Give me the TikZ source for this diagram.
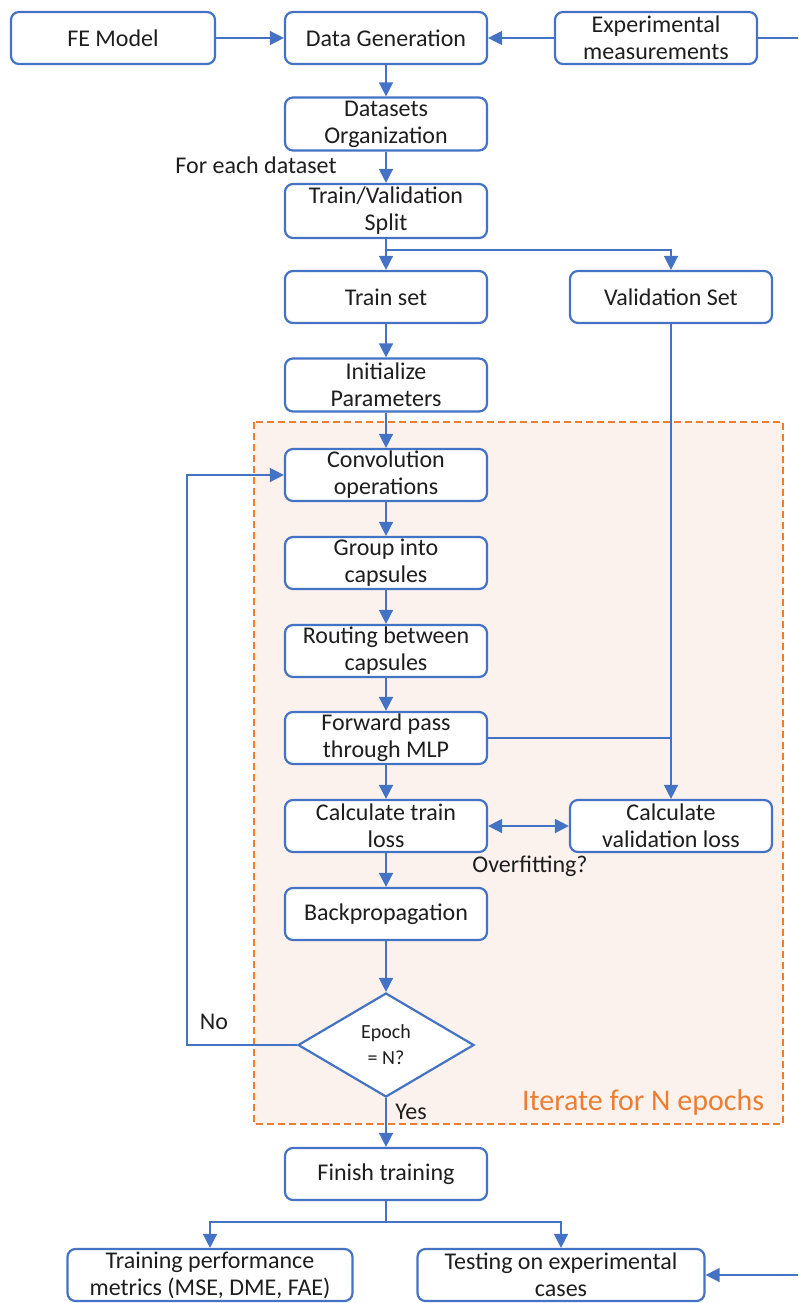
\documentclass[tikz,border=0pt]{standalone}
\usepackage{fontspec}
\setmainfont{Carlito}
\usetikzlibrary{arrows.meta,shapes.geometric}
\definecolor{lineblue}{HTML}{4472C4}
\definecolor{iterorange}{HTML}{ED7D31}
\definecolor{iterfill}{HTML}{FBF2EE}
\definecolor{txt}{HTML}{1E1E1E}
\tikzset{
  procbox/.style={draw=lineblue, line width=2.2pt, rounded corners=8pt, fill=white,
    minimum width=202pt, minimum height=52pt, inner sep=0pt, align=center,
    text=txt, font=\fontsize{24}{27}\selectfont},
  decbox/.style={draw=lineblue, line width=2.2pt, diamond, aspect=1.7, fill=white,
    minimum width=176pt, minimum height=104pt, inner sep=0pt, align=center,
    text=txt, font=\fontsize{20}{26}\selectfont},
  conn/.style={draw=lineblue, line width=1.5pt},
  arr/.style={conn, -{Triangle[length=14pt,width=14pt]}},
  dblarr/.style={conn, {Triangle[length=14pt,width=14pt]}-{Triangle[length=14pt,width=14pt]}},
  lbl/.style={text=txt, font=\fontsize{24}{27}\selectfont, inner sep=0pt},
  iterbox/.style={draw=iterorange, line width=1.3pt, dash pattern=on 7pt off 4pt, fill=iterfill}
}
\begin{document}
\begin{tikzpicture}[x=1pt,y=-1pt]
\useasboundingbox (0,0) rectangle (798,1303);
% iteration region
\path[iterbox] (254,422) rectangle (783,1124);
\node[text=iterorange, font=\fontsize{30}{34}\selectfont, inner sep=0pt] (iterlbl) at (643,1102) {Iterate for N epochs};

% nodes
\node[procbox, minimum width=204pt] (fe) at (113,38) {FE Model};
\node[procbox] (gen) at (386,38) {Data Generation};
\node[procbox] (exp) at (656,38) {Experimental\\measurements};
\node[procbox, minimum height=53pt] (org) at (386,124) {Datasets\\Organization};
\node[procbox, minimum height=54pt] (split) at (386,211) {Train/Validation\\Split};
\node[procbox] (train) at (386,297) {Train set};
\node[procbox] (val) at (671,297) {Validation Set};
\node[procbox, minimum height=53pt] (init) at (386,385) {Initialize\\Parameters};
\node[procbox] (conv) at (386,475) {Convolution\\operations};
\node[procbox] (group) at (386,563) {Group into\\capsules};
\node[procbox] (route) at (386,651) {Routing between\\capsules};
\node[procbox] (fwd) at (386,738) {Forward pass\\through MLP};
\node[procbox] (tloss) at (386,826) {Calculate train\\loss};
\node[procbox] (vloss) at (671,826) {Calculate\\validation loss};
\node[procbox] (back) at (386,914) {Backpropagation};
\node[decbox] (dec) at (386,1045) {Epoch\\= N?};
\node[procbox] (finish) at (386,1174) {Finish training};
\node[procbox, minimum width=285pt] (perf) at (210,1275) {Training performance\\metrics (MSE, DME, FAE)};
\node[procbox, minimum width=287pt] (test) at (561,1275) {Testing on experimental\\cases};

% labels
\node[lbl] (foreach) at (256,165) {For each dataset};
\node[lbl] (overfit) at (530,866) {Overfitting?};
\node[lbl] (no) at (214,1022) {No};
\node[lbl] (yes) at (411,1112) {Yes};

% helper coordinates
\coordinate (expR) at (798,38);
\coordinate (sj) at (386,250);
\coordinate (loopc) at (187,1045);
\coordinate (fj) at (386,1222);
\coordinate (testR) at (798,1275);

% connectors
\draw[arr] (fe.east) -- (gen.west);
\draw[arr] (exp.west) -- (gen.east);
\draw[conn] (exp.east) -- (expR);
\draw[arr] (gen.south) -- (org.north);
\draw[arr] (org.south) -- (split.north);
\draw[arr] (split.south) -- (train.north);
\draw[arr] (sj) -| (val.north);
\draw[arr] (train.south) -- (init.north);
\draw[arr] (init.south) -- (conv.north);
\draw[arr] (conv.south) -- (group.north);
\draw[arr] (group.south) -- (route.north);
\draw[arr] (route.south) -- (fwd.north);
\draw[arr] (fwd.south) -- (tloss.north);
\draw[arr] (val.south) -- (vloss.north);
\draw[conn] (fwd.east) -- (fwd.east -| vloss.north);
\draw[dblarr] (tloss.east) -- (vloss.west);
\draw[arr] (tloss.south) -- (back.north);
\draw[arr] (back.south) -- (dec.north);
\draw[arr] (dec.west) -- (loopc) |- (conv.west);
\draw[arr] (dec.south) -- (finish.north);
\draw[conn] (finish.south) -- (fj);
\draw[arr] (fj) -| (perf.north);
\draw[arr] (fj) -| (test.north);
\draw[arr] (testR) -- (test.east);
\end{tikzpicture}
\end{document}
